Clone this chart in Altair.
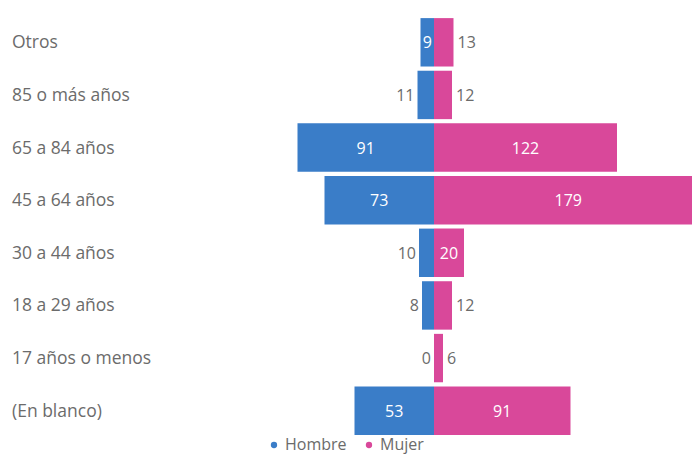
import altair as alt
import pandas as pd

categories = ["Otros", "85 o más años", "65 a 84 años", "45 a 64 años",
              "30 a 44 años", "18 a 29 años", "17 años o menos", "(En blanco)"]
hombre = [9, 11, 91, 73, 10, 8, 0, 53]
mujer = [13, 12, 122, 179, 20, 12, 6, 91]
series = ["Hombre", "Mujer"]
colors = ["#3A7DC8", "#D9489A"]

PX_PER_UNIT = 1.5
W, H = 684, 444
CENTER = 426
BAND_TOP = 2
BAND_BOTTOM = BAND_TOP + 421

rows = []
for c, h, m in zip(categories, hombre, mujer):
    for s, v in (("Hombre", h), ("Mujer", m)):
        signed = -v if s == "Hombre" else v
        inside = PX_PER_UNIT * v >= 8 * len(str(v)) + 5
        rows.append({"cat": c, "serie": s, "value": v, "signed": signed,
                     "mid": signed / 2, "inside": inside,
                     "label": str(v)})
df = pd.DataFrame(rows)

xscale = alt.Scale(domain=[-CENTER / PX_PER_UNIT, (W - CENTER) / PX_PER_UNIT], nice=False, zero=False)
yscale = alt.Scale(domain=categories, paddingInner=0.08, paddingOuter=0.04,
                   range=[BAND_TOP, BAND_BOTTOM])
FONT = "Open Sans"
GRAY = "#6b6b6b"

base = alt.Chart(df)
Y = alt.Y("cat:N", scale=yscale, axis=None)

bars = base.mark_bar(clip=True).encode(
    y=Y,
    x=alt.X("signed:Q", scale=xscale, axis=None),
    x2=alt.datum(0),
    color=alt.Color("serie:N", scale=alt.Scale(domain=series, range=colors),
                    legend=alt.Legend(title=None, orient="none", legendX=258, legendY=423,
                                      direction="horizontal", symbolType="circle",
                                      symbolSize=40, labelFont=FONT, labelFontSize=16,
                                      labelColor=GRAY, labelOffset=3,
                                      columnPadding=14, symbolStrokeWidth=0)),
)

inside_txt = base.transform_filter("datum.inside").mark_text(
    color="white", fontSize=16, font=FONT, align="center", baseline="middle", dy=1
).encode(y=Y, x=alt.X("mid:Q", scale=xscale, axis=None), text="label:N")

out_h = base.transform_filter("!datum.inside && datum.serie == 'Hombre'").mark_text(
    color=GRAY, fontSize=16, font=FONT, align="right", baseline="middle", dx=-3, dy=1
).encode(y=Y, x=alt.X("signed:Q", scale=xscale, axis=None), text="label:N")

out_m = base.transform_filter("!datum.inside && datum.serie == 'Mujer'").mark_text(
    color=GRAY, fontSize=16, font=FONT, align="left", baseline="middle", dx=4, dy=1
).encode(y=Y, x=alt.X("signed:Q", scale=xscale, axis=None), text="label:N")

cat_df = pd.DataFrame({"cat": categories})
cat_txt = alt.Chart(cat_df).mark_text(
    color=GRAY, fontSize=17.5, font=FONT, align="left", baseline="middle", dy=1
).encode(y=Y, x=alt.value(4), text="cat:N")

chart = alt.layer(bars, inside_txt, out_h, out_m, cat_txt).properties(
    width=W, height=H, background="white",
    padding={"left": 0, "top": 6, "right": 0, "bottom": 0}
).configure_view(strokeWidth=0, stroke=None)

chart.save("out.html", embed_options={"renderer": "svg", "actions": False})
